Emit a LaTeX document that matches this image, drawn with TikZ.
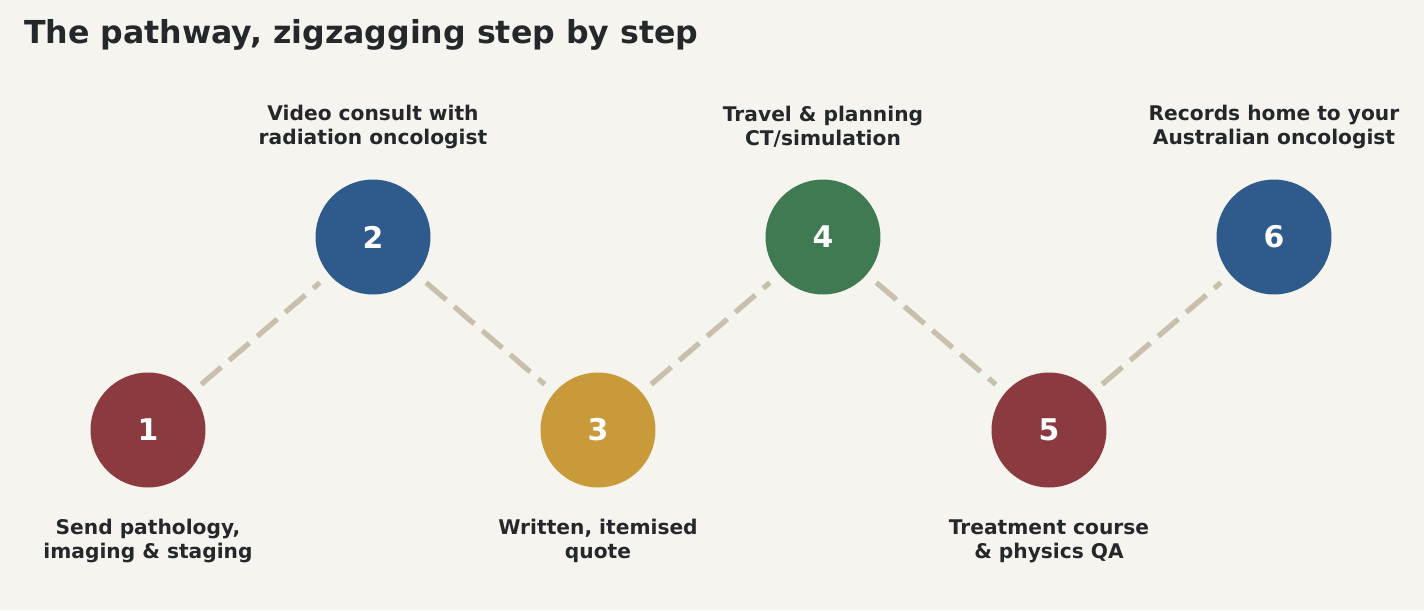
\documentclass[tikz,border=0pt]{standalone}
\usepackage{fontspec}
\setmainfont{DejaVu Sans}
\usetikzlibrary{positioning}
\definecolor{bg}{HTML}{F5F4EF}
\definecolor{ink}{HTML}{25282B}
\definecolor{dash}{HTML}{C8BFAD}
\definecolor{stepred}{HTML}{8B3A3F}
\definecolor{stepblue}{HTML}{2E5B8B}
\definecolor{stepgold}{HTML}{C89A3A}
\definecolor{stepgreen}{HTML}{3F7A52}
\begin{document}
\begin{tikzpicture}[x=0.02cm, y=-0.02cm]

    \tikzset{stop/.style = {circle, minimum size=2.3cm, inner sep=0pt, text=white, font=\bfseries\fontsize{17}{20}\selectfont},
             lbl/.style  = {align=center, text=ink, font=\bfseries\fontsize{11.5}{13.5}\selectfont},
             link/.style = {draw=dash, line width=3pt, dash pattern=on 15pt off 6pt, shorten <=7pt, shorten >=7pt}}

    \fill[bg] (0,0) rectangle (1424,610);
    \useasboundingbox (0,0) rectangle (1424,610);

    \node (title) [anchor=west, text=ink, font=\bfseries\fontsize{18}{22}\selectfont] at (18,35) {The pathway, zigzagging step by step};

    \node (s1) [stop, fill=stepred]   at (148,430)  {1};
    \node (s2) [stop, fill=stepblue]  at (373,237)  {2};
    \node (s3) [stop, fill=stepgold]  at (598,430)  {3};
    \node (s4) [stop, fill=stepgreen] at (823,237)  {4};
    \node (s5) [stop, fill=stepred]   at (1049,430) {5};
    \node (s6) [stop, fill=stepblue]  at (1274,237) {6};

    \node (l1) [lbl] at (148,541)  {Send pathology,\\imaging \& staging};
    \node (l2) [lbl] at (373,127)  {Video consult with\\radiation oncologist};
    \node (l3) [lbl] at (598,541)  {Written, itemised\\quote};
    \node (l4) [lbl] at (823,127)  {Travel \& planning\\CT/simulation};
    \node (l5) [lbl] at (1049,541) {Treatment course\\\& physics QA};
    \node (l6) [lbl] at (1274,127) {Records home to your\\Australian oncologist};

    \foreach \a/\b in {s1/s2, s2/s3, s3/s4, s4/s5, s5/s6}
        \path[link] (\a) -- (\b);

\end{tikzpicture}
\end{document}
